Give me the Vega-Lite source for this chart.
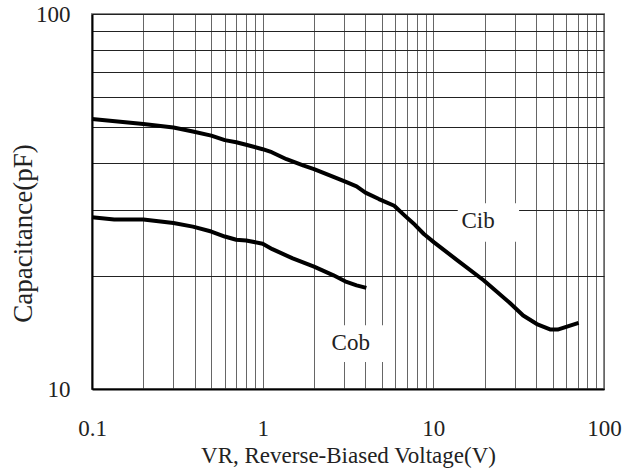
{
  "$schema": "https://vega.github.io/schema/vega-lite/v6.json",
  "width": 512,
  "height": 375,
  "autosize": {"type": "none"},
  "padding": {"left": 92, "top": 14, "right": 30, "bottom": 83},
  "background": "white",
  "config": {
    "view": {"stroke": "#888", "strokeWidth": 2},
    "font": "Liberation Serif"
  },
  "datasets": {
    "curves": [
      {"series": "Cib", "v": 0.1, "c": 52.5},
      {"series": "Cib", "v": 0.2, "c": 50.9},
      {"series": "Cib", "v": 0.3, "c": 49.8},
      {"series": "Cib", "v": 0.39, "c": 48.6},
      {"series": "Cib", "v": 0.5, "c": 47.4},
      {"series": "Cib", "v": 0.6, "c": 46.1},
      {"series": "Cib", "v": 0.7, "c": 45.5},
      {"series": "Cib", "v": 0.8, "c": 44.8},
      {"series": "Cib", "v": 1.0, "c": 43.6},
      {"series": "Cib", "v": 1.13, "c": 42.8},
      {"series": "Cib", "v": 1.38, "c": 41.0},
      {"series": "Cib", "v": 1.74, "c": 39.4},
      {"series": "Cib", "v": 2.0, "c": 38.6},
      {"series": "Cib", "v": 2.6, "c": 36.8},
      {"series": "Cib", "v": 3.1, "c": 35.6},
      {"series": "Cib", "v": 3.55, "c": 34.7},
      {"series": "Cib", "v": 4.0, "c": 33.4},
      {"series": "Cib", "v": 4.8, "c": 32.1},
      {"series": "Cib", "v": 5.9, "c": 30.8},
      {"series": "Cib", "v": 6.8, "c": 29.0},
      {"series": "Cib", "v": 7.8, "c": 27.4},
      {"series": "Cib", "v": 8.8, "c": 25.9},
      {"series": "Cib", "v": 10.1, "c": 24.6},
      {"series": "Cib", "v": 13.9, "c": 22.0},
      {"series": "Cib", "v": 19.7, "c": 19.5},
      {"series": "Cib", "v": 27.9, "c": 17.0},
      {"series": "Cib", "v": 33.6, "c": 15.7},
      {"series": "Cib", "v": 40.4, "c": 14.9},
      {"series": "Cib", "v": 48.7, "c": 14.4},
      {"series": "Cib", "v": 53.5, "c": 14.4},
      {"series": "Cib", "v": 71, "c": 15.0},
      {"series": "Cob", "v": 0.1, "c": 28.7},
      {"series": "Cob", "v": 0.135, "c": 28.3},
      {"series": "Cob", "v": 0.2, "c": 28.3},
      {"series": "Cob", "v": 0.3, "c": 27.7},
      {"series": "Cob", "v": 0.39, "c": 27.1},
      {"series": "Cob", "v": 0.5, "c": 26.3},
      {"series": "Cob", "v": 0.6, "c": 25.5},
      {"series": "Cob", "v": 0.7, "c": 25.0},
      {"series": "Cob", "v": 0.8, "c": 24.9},
      {"series": "Cob", "v": 1.0, "c": 24.4},
      {"series": "Cob", "v": 1.14, "c": 23.6},
      {"series": "Cob", "v": 1.5, "c": 22.3},
      {"series": "Cob", "v": 2.0, "c": 21.2},
      {"series": "Cob", "v": 2.6, "c": 20.1},
      {"series": "Cob", "v": 3.1, "c": 19.3},
      {"series": "Cob", "v": 3.55, "c": 18.9},
      {"series": "Cob", "v": 4.05, "c": 18.6}
    ],
    "labels": [
      {"label": "Cib", "v": 18.3, "c": 28.0, "v1": 13.9, "v2": 31.8, "c1": 24.7, "c2": 31.3},
      {"label": "Cob", "v": 3.28, "c": 13.3, "v1": 2.41, "v2": 5.42, "c1": 11.8, "c2": 14.8}
    ]
  },
  "encoding": {
    "x": {
      "field": "v",
      "type": "quantitative",
      "scale": {"type": "log", "domain": [0.1, 100], "nice": false},
      "axis": {
        "title": "VR, Reverse-Biased Voltage(V)",
        "titleFont": "Liberation Serif",
        "titleFontSize": 23,
        "titleFontWeight": "normal",
        "titleColor": "#222",
        "titleBaseline": "alphabetic",
        "titleY": 73,
        "values": [0.1, 0.2, 0.3, 0.4, 0.5, 0.6, 0.7, 0.8, 0.9, 1, 2, 3, 4, 5, 6, 7, 8, 9, 10, 20, 30, 40, 50, 60, 70, 80, 90, 100],
        "format": "~g",
        "labelExpr": "(datum.value == 0.1 || datum.value == 1 || datum.value == 10 || datum.value == 100) ? datum.label : ''",
        "labelOverlap": false,
        "labelFlush": false,
        "labelFont": "Liberation Serif",
        "labelFontSize": 23,
        "labelColor": "#222",
        "labelBaseline": "alphabetic",
        "labelPadding": 46,
        "ticks": false,
        "tickSize": 0,
        "grid": true,
        "gridColor": "#666",
        "gridWidth": 1,
        "gridOpacity": 1,
        "domain": true,
        "domainColor": "#000",
        "domainWidth": 2
      }
    },
    "y": {
      "field": "c",
      "type": "quantitative",
      "scale": {"type": "log", "domain": [10, 100], "nice": false},
      "axis": {
        "title": "Capacitance(pF)",
        "titleFont": "Liberation Serif",
        "titleFontSize": 27,
        "titleFontWeight": "normal",
        "titleColor": "#222",
        "titleAngle": -90,
        "titleAlign": "center",
        "titleBaseline": "middle",
        "titleX": -69,
        "titleY": 219,
        "values": [10, 20, 30, 40, 50, 60, 70, 80, 90, 100],
        "format": "~g",
        "labelExpr": "(datum.value == 10 || datum.value == 100) ? datum.label : ''",
        "labelOverlap": false,
        "labelFlush": false,
        "labelFont": "Liberation Serif",
        "labelFontSize": 23,
        "labelColor": "#222",
        "labelBaseline": "middle",
        "labelPadding": 22,
        "ticks": false,
        "tickSize": 0,
        "grid": true,
        "gridColor": "#222",
        "gridWidth": 1,
        "gridOpacity": 1,
        "domain": true,
        "domainColor": "#000",
        "domainWidth": 2
      }
    }
  },
  "layer": [
    {
      "data": {"name": "labels"},
      "mark": {"type": "rect", "fill": "white", "stroke": null},
      "encoding": {
        "x": {"field": "v1", "type": "quantitative", "scale": {"type": "log", "domain": [0.1, 100], "nice": false}},
        "x2": {"field": "v2"},
        "y": {"field": "c1", "type": "quantitative", "scale": {"type": "log", "domain": [10, 100], "nice": false}},
        "y2": {"field": "c2"}
      }
    },
    {
      "data": {"name": "curves"},
      "mark": {"type": "line", "color": "#000", "strokeWidth": 4, "strokeJoin": "round", "strokeCap": "butt"},
      "encoding": {
        "detail": {"field": "series", "type": "nominal"}
      }
    },
    {
      "data": {"name": "labels"},
      "mark": {"type": "text", "font": "Liberation Serif", "fontSize": 23, "color": "#222", "align": "center", "baseline": "middle"},
      "encoding": {
        "text": {"field": "label", "type": "nominal"}
      }
    }
  ]
}
